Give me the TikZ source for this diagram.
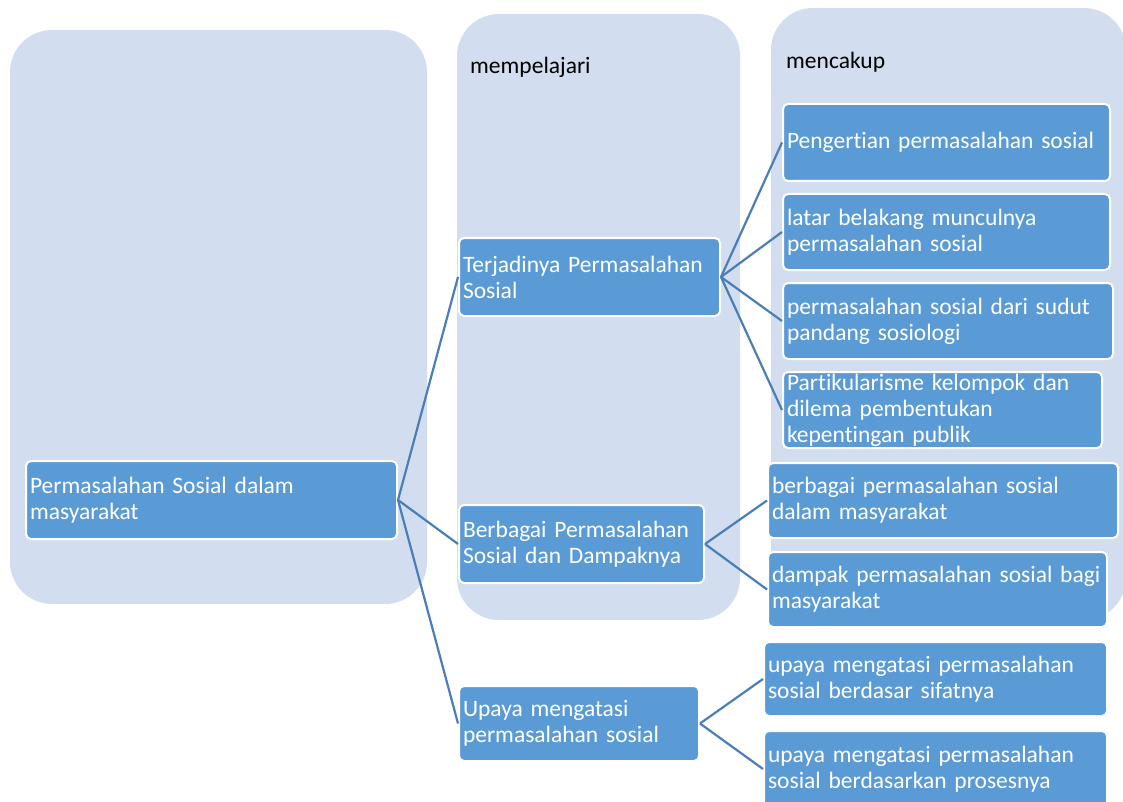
\documentclass[tikz,border=0pt]{standalone}
\usepackage{fontspec}
\setmainfont{Carlito}[Ligatures={NoCommon}]
\definecolor{panelfill}{HTML}{D2DEEF}
\definecolor{boxfill}{HTML}{5B9BD5}
\definecolor{linkcol}{HTML}{4A7EB5}
\tikzset{
  panel/.style={fill=panelfill, draw=none, rounded corners=42pt},
  tbox/.style={fill=boxfill, draw=white, line width=2pt, rounded corners=5pt,
    text=white, align=left, inner xsep=4pt, inner ysep=0pt,
    font=\fontsize{23.5}{26}\selectfont},
  link/.style={draw=linkcol, line width=2.2pt},
  plabel/.style={anchor=west, inner sep=0pt, font=\fontsize{23.5}{26}\selectfont}
}
\newcommand{\bx}[7]{% name, x1, y1, x2, y2, text
  \node[tbox, minimum width={#4-#2}, minimum height={#5-#3}, text width={#4-#2-8}] (#1) at ({(#2+#4)/2},{(#3+#5)/2}) {#6};}
\begin{document}
\begin{tikzpicture}[x=1pt,y=-1pt]
\useasboundingbox (0,0) rectangle (1123,802);
\clip (0,0) rectangle (1123,802);
% panels
\path[panel] (10,30) rectangle (427,604);
\path[panel] (457,14) rectangle (740,620);
\path[panel] (771,8) rectangle (1126,620);
\node[plabel] (lab1) at (470,67) {mempelajari};
\node[plabel] (lab2) at (786,62) {mencakup};
% boxes
\bx{root}{26}{461}{397}{539}{Permasalahan Sosial dalam\\masyarakat}{}
\bx{t1}{459}{238}{720}{316}{Terjadinya Permasalahan\\Sosial}{}
\bx{t2}{459}{505}{704}{583}{Berbagai Permasalahan\\Sosial dan Dampaknya}{}
\bx{t3}{459}{686}{699}{761}{Upaya mengatasi\\permasalahan sosial}{}
\bx{c1}{783}{104}{1110}{181}{Pengertian permasalahan sosial}{}
\bx{c2}{783}{194}{1110}{270}{latar belakang munculnya\\permasalahan sosial}{}
\bx{c3}{783}{283}{1113}{359}{permasalahan sosial dari sudut\\pandang sosiologi}{}
\bx{c4}{783}{372}{1102}{448}{Partikularisme kelompok dan\\dilema pembentukan\\kepentingan publik}{}
\bx{d1}{768}{463}{1118}{538}{berbagai permasalahan sosial\\dalam masyarakat}{}
\bx{d2}{768}{552}{1107}{627}{dampak permasalahan sosial bagi\\masyarakat}{}
\bx{u1}{764}{642}{1107}{716}{upaya mengatasi permasalahan\\sosial berdasar sifatnya}{}
\bx{u2}{764}{731}{1107}{807}{upaya mengatasi permasalahan\\sosial berdasarkan prosesnya}{}
% connectors
\foreach \c in {t1,t2,t3} \draw[link] (root.east) -- (\c.west);
\foreach \c in {c1,c2,c3,c4} \draw[link] (t1.east) -- (\c.west);
\foreach \c in {d1,d2} \draw[link] (t2.east) -- (\c.west);
\foreach \c in {u1,u2} \draw[link] (t3.east) -- (\c.west);
\end{tikzpicture}
\end{document}
